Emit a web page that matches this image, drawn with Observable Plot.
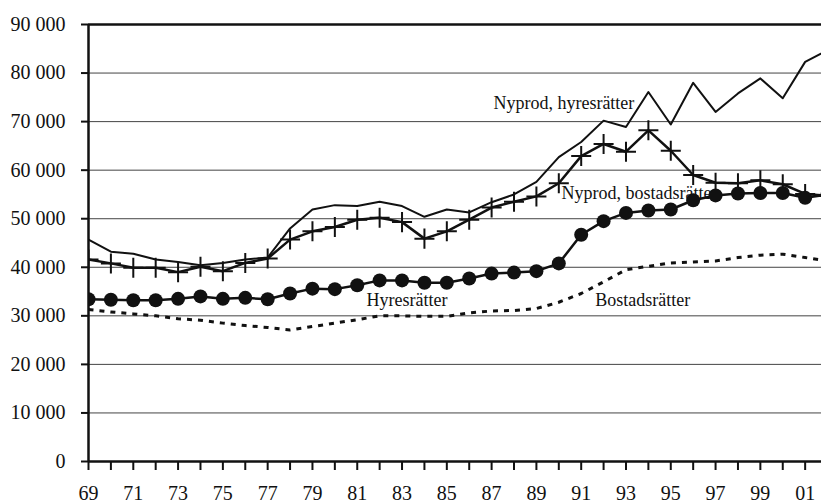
<!DOCTYPE html>
<html><head><meta charset="utf-8">
<script src="https://cdn.jsdelivr.net/npm/d3@7"></script>
<script src="https://cdn.jsdelivr.net/npm/@observablehq/plot@0.6"></script>
<style>html,body{margin:0;padding:0;background:#fff;}</style>
</head><body><div id="chart"></div>
<script>
const years = [1969,1970,1971,1972,1973,1974,1975,1976,1977,1978,1979,1980,1981,1982,1983,1984,1985,1986,1987,1988,1989,1990,1991,1992,1993,1994,1995,1996,1997,1998,1999,2000,2001,2002];
const nyprodHyresratter = [45700,43200,42800,41600,41100,40400,40900,41600,42000,48000,51900,52800,52600,53500,52600,50400,51900,51300,53400,55000,57600,62700,65800,70200,68900,76100,69400,78000,72000,75800,78900,74800,82300,84700];
const nyprodBostadsratter = [41600,40800,39900,39900,39000,40100,39200,40900,41800,45700,47400,48300,49800,50200,49300,45900,47400,49800,52300,53500,54600,57300,62900,65400,63800,68200,64000,59000,57400,57300,57900,57100,55100,54700];
const hyresratter = [33400,33300,33200,33200,33500,34000,33500,33700,33400,34600,35600,35500,36300,37300,37300,36800,36800,37700,38700,38900,39200,40800,46700,49500,51200,51700,51900,53800,54800,55200,55300,55300,54300,55000];
const bostadsratter = [31300,30800,30400,30000,29400,29100,28500,28000,27600,27100,27800,28500,29200,30000,30000,29900,29900,30600,31000,31100,31500,32800,34600,37000,39500,40200,40900,41100,41300,42000,42500,42700,42000,41300];
const yTicks = [0,10000,20000,30000,40000,50000,60000,70000,80000,90000];
const yTickLabels = ["0","10 000","20 000","30 000","40 000","50 000","60 000","70 000","80 000","90 000"];
const xTickYears = [1969,1971,1973,1975,1977,1979,1981,1983,1985,1987,1989,1991,1993,1995,1997,1999,2001];
const xTickLabels = ["69","71","73","75","77","79","81","83","85","87","89","91","93","95","97","99","01"];
const seriesLabels = ["Nyprod, hyresrätter","Nyprod, bostadsrätter","Hyresrätter","Bostadsrätter"];
const labelYears = [1987.08, 1990.12, 1981.41, 1991.63];
const labelValues = [73800, 55300, 33200, 33200];

const rows = (vals) => years.map((y, i) => ({year: y, value: vals[i]}));
const labels = seriesLabels.map((t, i) => ({text: t, year: labelYears[i], value: labelValues[i]}));
const ink = "#111";

const chart = Plot.plot({
  width: 821, height: 503,
  marginLeft: 88, marginRight: 0, marginTop: 24, marginBottom: 42,
  style: {fontFamily: '"Liberation Serif", "Times New Roman", serif', fontSize: "20px", color: ink, background: "#fff", overflow: "hidden"},
  x: {domain: [1969, 2001.73]},
  y: {domain: [0, 90000]},
  marks: [
    Plot.gridY(yTicks, {stroke: "#444", strokeOpacity: 1, strokeWidth: 1}),
    Plot.ruleY([90000], {stroke: ink, strokeWidth: 2.5}),
    Plot.axisY(yTicks, {tickFormat: d => yTickLabels[yTicks.indexOf(d)], tickSize: 7, tickPadding: 16, strokeWidth: 2, stroke: ink, label: null}),
    Plot.axisX(years.slice(0, 33), {tickFormat: d => { const k = xTickYears.indexOf(d); return k >= 0 ? xTickLabels[k] : ""; }, tickSize: 9, tickPadding: 15, strokeWidth: 2, stroke: ink, label: null}),
    Plot.text(labels, {x: "year", y: "value", text: "text", textAnchor: "start", fontSize: 18, fill: ink}),
    Plot.line(rows(bostadsratter), {x: "year", y: "value", stroke: ink, strokeWidth: 3, strokeDasharray: "5,6", strokeLinecap: "butt", clip: true}),
    Plot.line(rows(nyprodHyresratter), {x: "year", y: "value", stroke: ink, strokeWidth: 2, clip: true}),
    Plot.line(rows(nyprodBostadsratter), {x: "year", y: "value", stroke: ink, strokeWidth: 2.5, clip: true}),
    Plot.dot(rows(nyprodBostadsratter), {x: "year", y: "value", symbol: "plus", r: 6.5, stroke: ink, strokeWidth: 2, clip: true}),
    Plot.line(rows(hyresratter), {x: "year", y: "value", stroke: ink, strokeWidth: 2.5, clip: true}),
    Plot.dot(rows(hyresratter), {x: "year", y: "value", r: 7, fill: ink, stroke: "none", clip: true}),
    Plot.ruleX([1969], {stroke: ink, strokeWidth: 2.5}),
    Plot.ruleY([0], {stroke: ink, strokeWidth: 2.5})
  ]
});
document.getElementById("chart").appendChild(chart);
</script>
</body></html>
